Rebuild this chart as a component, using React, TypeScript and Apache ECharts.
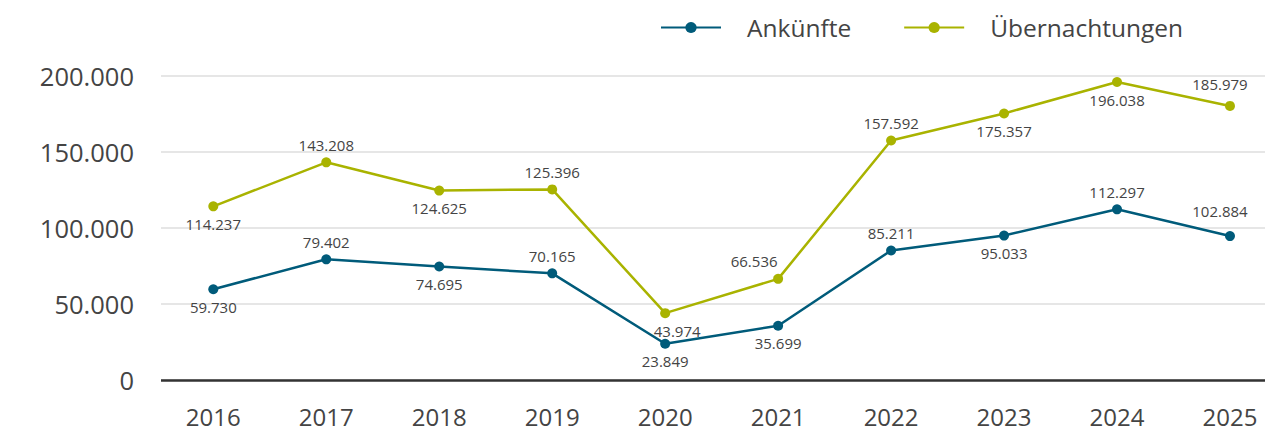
import React, { useEffect, useRef } from "react";
import * as echarts from "echarts";

const years = ["2016", "2017", "2018", "2019", "2020", "2021", "2022", "2023", "2024", "2025"];
// plotted values (2025 points are drawn lower than their labels in the reference)
const arrivals = [59730, 79402, 74695, 70165, 23849, 35699, 85211, 95033, 112297, 94700];
const overnights = [114237, 143208, 124625, 125396, 43974, 66536, 157592, 175357, 196038, 180300];
const arrivalLabels = ["59.730", "79.402", "74.695", "70.165", "23.849", "35.699", "85.211", "95.033", "112.297", "102.884"];
const overnightLabels = ["114.237", "143.208", "124.625", "125.396", "43.974", "66.536", "157.592", "175.357", "196.038", "185.979"];
const arrivalPos = ["bottom", "top", "bottom", "top", "bottom", "bottom", "top", "bottom", "top", "top"];
const overnightPos = ["bottom", "top", "bottom", "top", "bottom", "top", "top", "bottom", "bottom", "top"];
const arrivalOffset = [[0, 0], [0, 0], [0, 0], [0, 0], [0, 0], [0, 0], [0, 0], [0, 0], [0, 0], [-10, -8]];
const overnightOffset = [[0, 0], [0, 0], [0, 0], [0, 0], [12, 0], [-24, 0], [0, 0], [0, 0], [0, 0], [-10, -4]];
const yTicks = [0, 50000, 100000, 150000, 200000];

const FONT = "'Open Sans', 'Noto Sans', sans-serif";
const BLUE = "#005b7a";
const OLIVE = "#a9b300";

function buildData(vals: number[], labels: string[], pos: string[], offs: number[][]) {
  return vals.map((v, i) => ({
    value: [Number(years[i]), v],
    label: { formatter: labels[i], position: pos[i], offset: offs[i] },
  }));
}

export default function App() {
  const ref = useRef<HTMLDivElement>(null);
  useEffect(() => {
    if (!ref.current) return;
    const chart = echarts.init(ref.current, null, { renderer: "svg" });
    const labelStyle = {
      show: true,
      fontFamily: FONT,
      fontSize: 15,
      color: "#444",
      distance: 5,
    };
    chart.setOption({
      animation: false,
      textStyle: { fontFamily: FONT },
      legend: {
        left: 655,
        top: 10,
        itemWidth: 60,
        itemHeight: 14,
        itemGap: 52,
        textStyle: { fontFamily: FONT, fontSize: 24.5, color: "#444", padding: [0, 0, 0, 21] },
        data: ["Ankünfte", "Übernachtungen"],
      },
      grid: { left: 161, right: 0, top: 76, bottom: 52, containLabel: false },
      xAxis: {
        type: "value",
        min: 2015.537,
        max: 2025.31,
        axisLine: { show: false },
        axisTick: { show: false },
        splitLine: { show: false },
        axisLabel: {
          customValues: years.map(Number),
          formatter: (v: number) => String(v),
          fontFamily: FONT,
          fontSize: 24,
          color: "#444",
          margin: 24,
        },
      },
      yAxis: {
        type: "value",
        min: 0,
        max: 200000,
        interval: 50000,
        axisLine: { show: false },
        axisTick: { show: false },
        splitLine: { lineStyle: { color: "#e6e6e6", width: 2 } },
        axisLabel: {
          fontFamily: FONT,
          fontSize: 25.5,
          color: "#444",
          margin: 27,
          formatter: (v: number) => (yTicks.includes(v) ? v.toLocaleString("de-DE") : ""),
        },
      },
      series: [
        {
          name: "Ankünfte",
          type: "line",
          symbol: "circle",
          symbolSize: 10,
          color: BLUE,
          lineStyle: { width: 2.5, color: BLUE },
          label: labelStyle,
          data: buildData(arrivals, arrivalLabels, arrivalPos, arrivalOffset),
          z: 3,
        },
        {
          name: "Übernachtungen",
          type: "line",
          symbol: "circle",
          symbolSize: 10,
          color: OLIVE,
          lineStyle: { width: 2.5, color: OLIVE },
          label: labelStyle,
          data: buildData(overnights, overnightLabels, overnightPos, overnightOffset),
          z: 3,
          markLine: {
            silent: true,
            symbol: "none",
            label: { show: false },
            lineStyle: { color: "#333", width: 2.5, type: "solid" },
            data: [{ yAxis: 0 }],
          },
        },
      ],
    });
    return () => chart.dispose();
  }, []);
  return <div ref={ref} style={{ width: 1265, height: 432, position: "absolute", left: 0, top: 0 }} />;
}
